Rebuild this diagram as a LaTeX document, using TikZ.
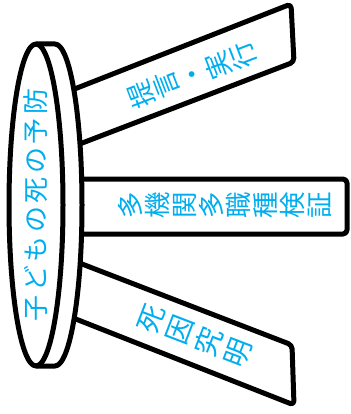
\documentclass[tikz,border=0pt]{standalone}
\usepackage{fontspec}
\newfontfamily\jp{Noto Sans CJK JP}
\definecolor{txtblue}{HTML}{00AEEF}
\begin{document}
\begin{tikzpicture}[x=1pt,y=-1pt,
  outline/.style={draw=black, fill=white, line width=5pt, line join=round},
  legtext/.style={text=txtblue, inner sep=0pt, align=center}]
\useasboundingbox (0,0) rectangle (350,414);
% legs
\draw[outline, rounded corners=4pt] (60,94.7) -- (291,4) -- (294,62) -- (60,151.5) -- cycle;
\draw[outline, rounded corners=4pt] (60,179) -- (347,179) -- (347,234) -- (60,234) -- cycle;
\draw[outline, rounded corners=4pt] (60,255.5) -- (292,345) -- (294,405) -- (60,312.8) -- cycle;
% seat (cylinder seen from the side)
\draw[outline] (36,44) -- (55,44) arc[start angle=-90, end angle=90, x radius=27, y radius=161]
  -- (36,366) arc[start angle=90, end angle=270, x radius=27, y radius=161] -- cycle;
\draw[line width=5pt] (36,44) arc[start angle=-90, end angle=90, x radius=27, y radius=161];
% texts
\node[legtext, rotate=90, font=\jp\fontsize{26}{26}\selectfont] (seat) at (36,205)
  {子\kern3.5pt ど\kern3.5pt も\kern3.5pt の\kern3.5pt 死\kern3.5pt の\kern3.5pt 予\kern3.5pt 防};
\node[legtext, rotate=111, font=\jp\fontsize{27}{27.5}\selectfont] (leg1) at (192,75)
  {提\\言\\・\\実\\行};
\node[legtext, rotate=90, font=\jp\fontsize{26.5}{27}\selectfont] (leg2) at (225,205.5)
  {多\\機\\関\\多\\職\\種\\検\\証};
\node[legtext, rotate=69, font=\jp\fontsize{28}{31}\selectfont] (leg3) at (195,336)
  {死\\因\\究\\明};
\end{tikzpicture}
\end{document}
